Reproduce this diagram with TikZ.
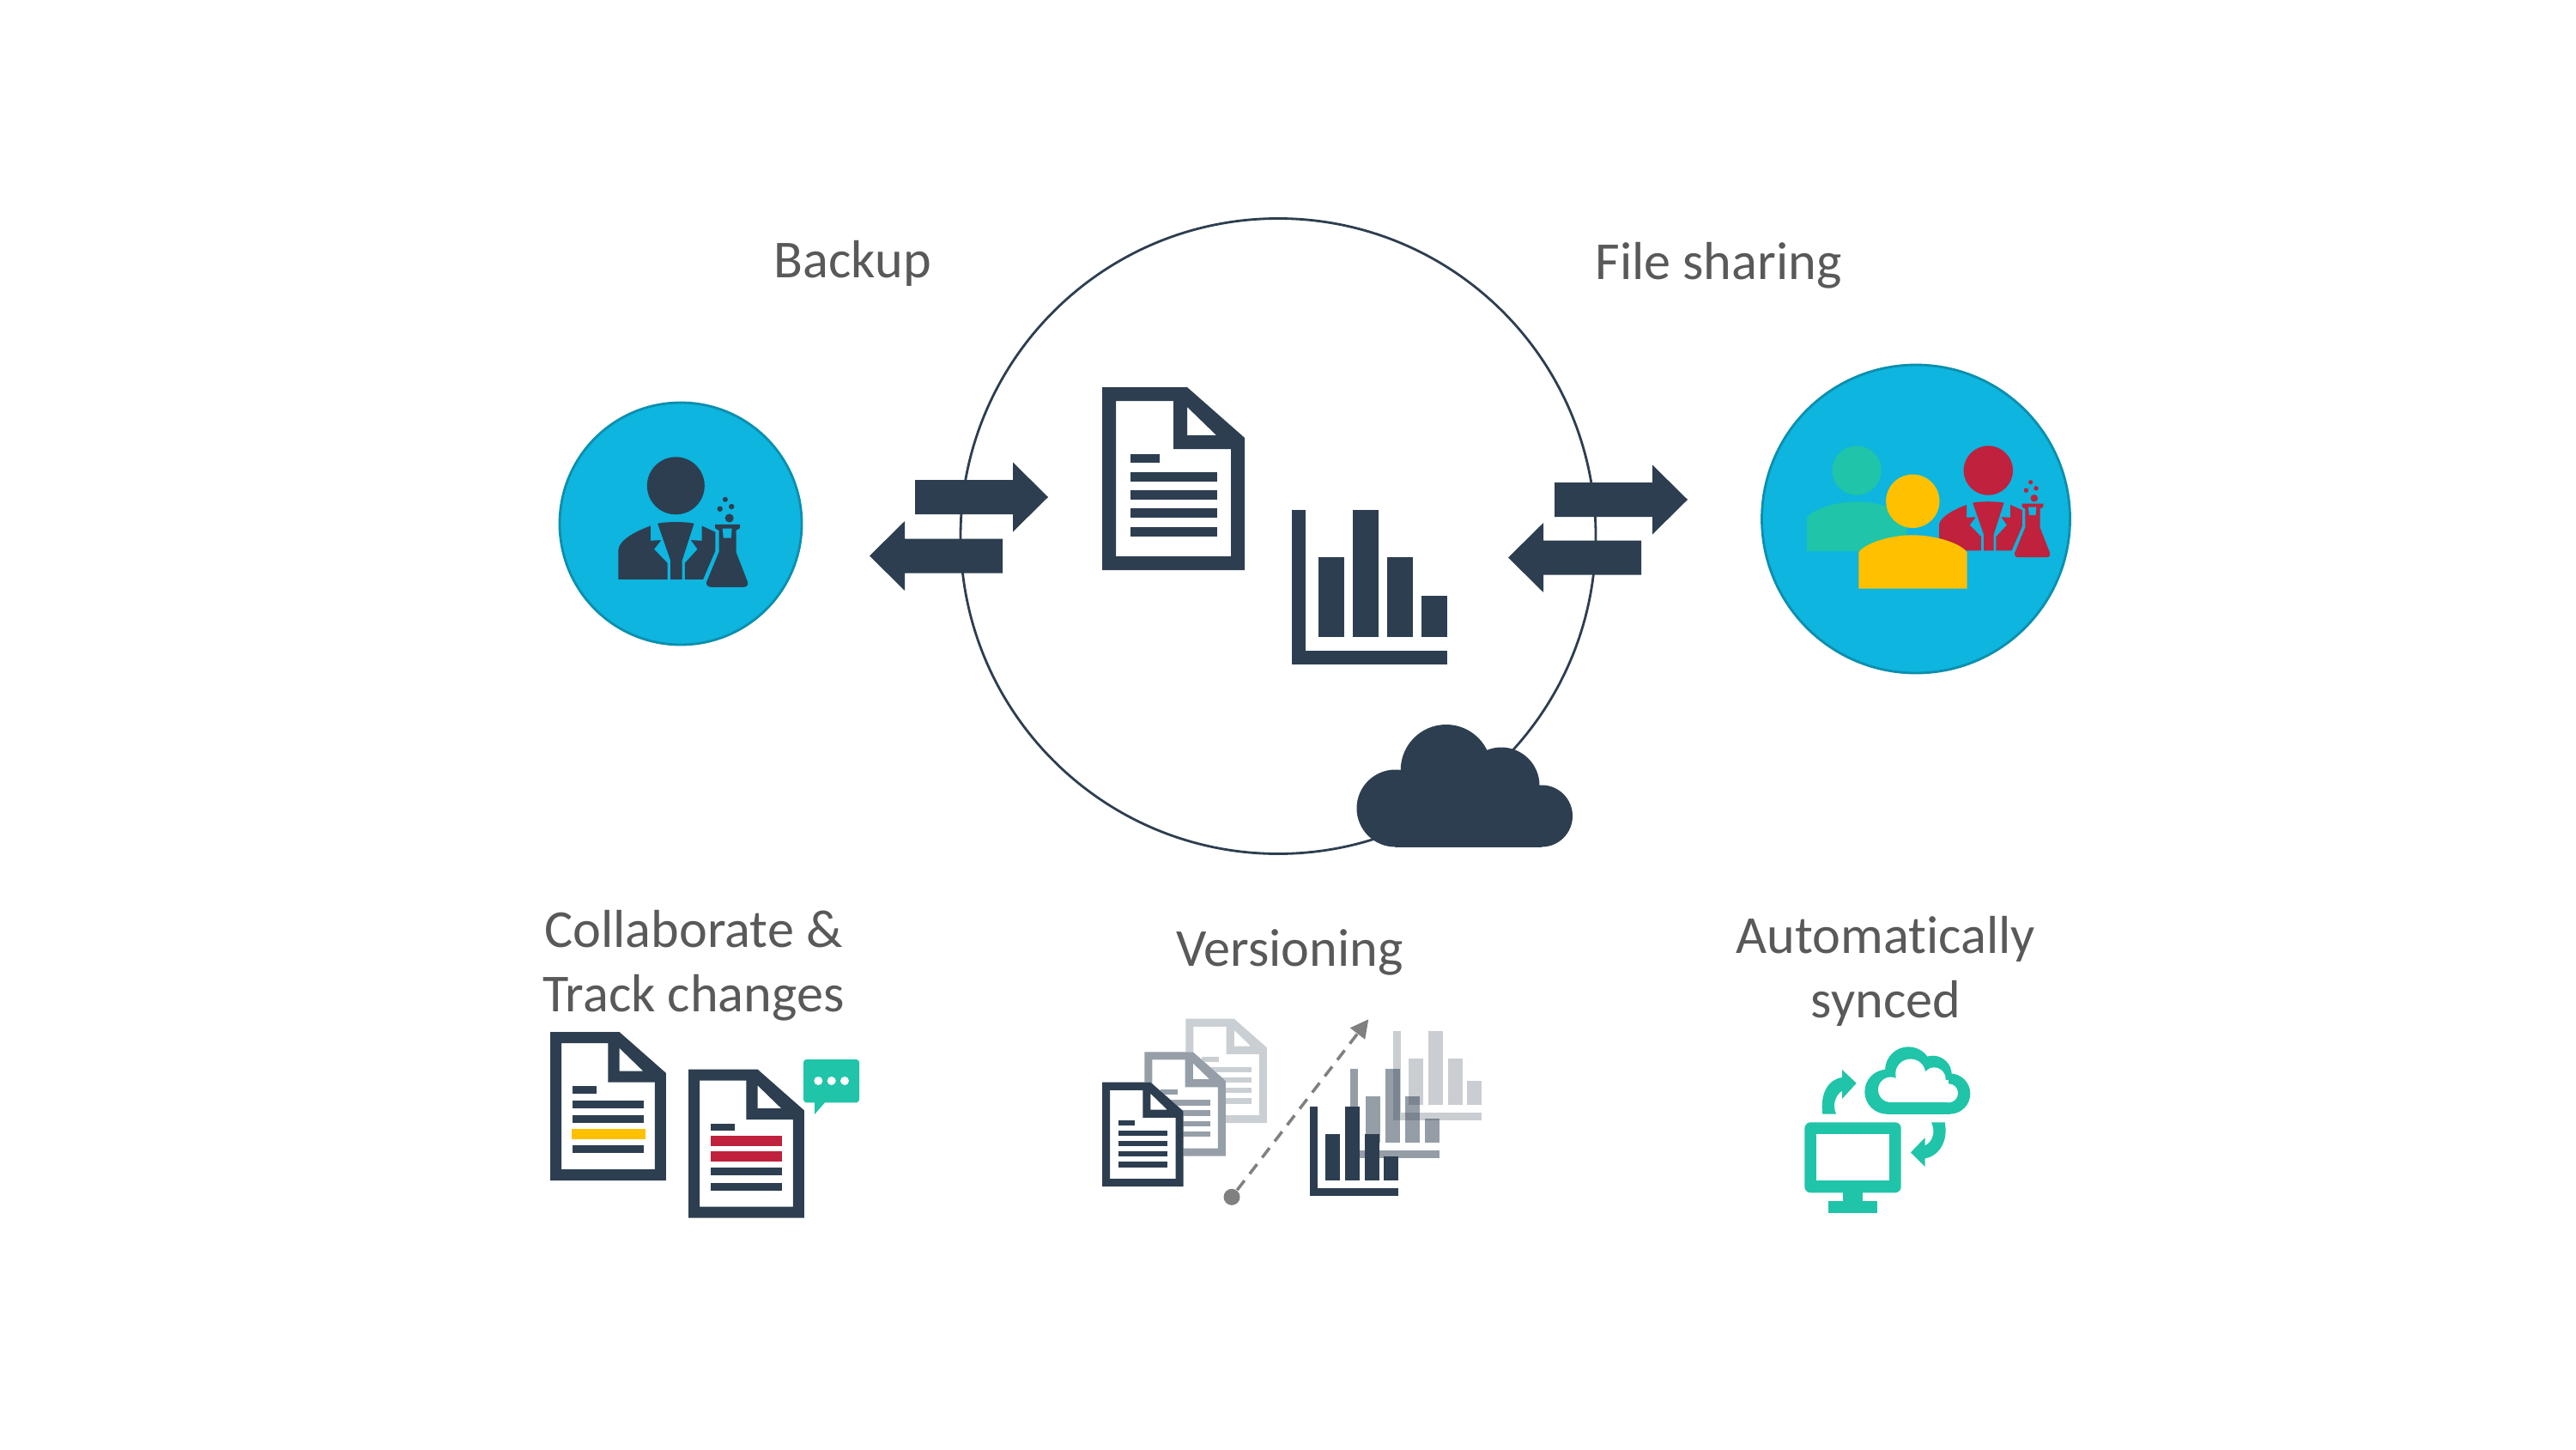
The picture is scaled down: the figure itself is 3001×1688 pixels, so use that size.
\documentclass[tikz,border=0pt]{standalone}
\usepackage{fontspec}
\setmainfont{Carlito}[Ligatures=NoCommon]
\usepackage{xcolor}
\usepackage{tikz}
\usetikzlibrary{
arrows.meta,
positioning
}
\definecolor{syncnavy}{HTML}{2D3E50}
\definecolor{syncsky}{HTML}{0DB5DF}
\definecolor{syncrim}{HTML}{0C8FAE}
\definecolor{syncteal}{HTML}{20C4A8}
\definecolor{syncred}{HTML}{C0213C}
\definecolor{syncgold}{HTML}{FFC000}
\definecolor{syncgray}{HTML}{595959}
\definecolor{syncdash}{HTML}{808080}
\tikzset{
  caption/.style={text=syncgray, font=\fontsize{17.7}{21.3}\selectfont, align=center, inner sep=0pt},
  disc/.style={fill=syncsky, draw=syncrim, line width=0.8pt},
  ghostmid/.style={fill=syncnavy, fill opacity=0.5},
  ghostback/.style={fill=syncnavy, fill opacity=0.25},
  pics/blockarrow/.style={code={
    \fill[syncnavy] (0,-20) -- (114,-20) -- (114,-40.5) -- (155,0) -- (114,40.5) -- (114,20) -- (0,20) -- cycle;
  }},
  pics/docicon/.style={code={
    \fill[white] (0,0) -- (99,0) -- (166,59) -- (166,213) -- (0,213) -- cycle;
    \fill[#1, even odd rule] (0,0) -- (99,0) -- (166,59) -- (166,213) -- (0,213) -- cycle
      (16,16) -- (83,16) -- (83,72) -- (150,72) -- (150,197) -- (16,197) -- cycle
      (99,23) -- (99,56) -- (133,56) -- cycle;
    \fill[#1] (32.5,77.5) rectangle (67,88);
    \foreach \ly in {98.5,119.6,141,162.5}
      \fill[#1] (32.5,\ly) rectangle (134,\ly+11);
  }},
  pics/barchart/.style={code={
    \fill[#1] (0,0) rectangle (16,164.8);
    \fill[#1] (0,164.8) rectangle (181,180.4);
    \fill[#1] (31.7,55.4) rectangle (61.1,148.7);
    \fill[#1] (71.6,0) rectangle (101,148.7);
    \fill[#1] (111.6,55.4) rectangle (141,148.7);
    \fill[#1] (151.1,100.8) rectangle (181,148.7);
  }},
  pics/scientist/.style 2 args={code={
    \fill[#1] (0,0) circle (33.5);
    \fill[#1] (-66.9,109) -- (-66.9,74) .. controls (-65.3,62.3) and (-44.9,52.3) .. (-29.4,46.7)
      -- (-29.4,64) -- (-17.1,63.3) -- (-25.3,74) -- (-9.8,90) -- (-9.8,109) -- cycle;
    \fill[#1] (-21.2,44) .. controls (-12,41.7) and (12,41.7) .. (21.2,44)
      -- (7.3,87.3) -- (7.3,109) -- (-6.1,109) -- (-6.1,87.3) -- cycle;
    \fill[#1] (30.2,46.7) -- (30.2,64) -- (17.6,63.3) -- (25.3,74) -- (10.6,90) -- (10.6,109)
      -- (31.8,109) -- (46.1,75.7) -- (46.1,54) -- cycle;
    % Flask
    \fill[#1] (45.7,45) -- (74.7,45) -- (74.7,49.3) -- (70.2,52) -- (70.2,77.3) -- (83.7,112)
      .. controls (84.5,115.5) and (83,118) .. (79,118) -- (41,118)
      .. controls (37,118) and (35.2,115.5) .. (35.9,112) -- (50.2,77.3) -- (50.2,52) -- (45.7,49.3) -- cycle;
    \fill[#2] (54.3,49.7) -- (65.3,49.7) -- (64.5,60.7) -- (55.5,60.7) -- cycle;
    \fill[#1] (62.4,37.7) circle (5);
    \fill[#1] (57.6,16) circle (3);
    \fill[#1] (51.4,27) circle (3.2);
    \fill[#1] (64.9,24.3) circle (3.2);
  }},
  pics/member/.style={code={
    \fill[#1] (0,0) circle (31.2);
    \fill[#1] (-63,101.9) -- (-63,60) .. controls (-58,50) and (-28,39.5) .. (0,39.5)
      .. controls (28,39.5) and (58,50) .. (63.4,60) -- (63.4,101.9) -- cycle;
  }}
}
\begin{document}
\begin{tikzpicture}[x=0.01cm, y=-0.01cm]
  \fill[white] (0,0) rectangle (3001,1688);
  % Central ring and its contents
  \draw[syncnavy, line width=0.8pt] (1489,624.5) circle (370);
  \pic at (1284,451) {docicon=syncnavy};
  \pic at (1504.7,593.6) {barchart=syncnavy};
  % Storage cloud
  \fill[syncnavy] (1625.5,941.5) circle (45);
  \fill[syncnavy] (1684.7,897) circle (53);
  \fill[syncnavy] (1749,915) circle (44.5);
  \fill[syncnavy] (1796,950.5) circle (36);
  \fill[syncnavy] (1625,900) rectangle (1749,986.5);
  \fill[syncnavy] (1749,945) rectangle (1796,986.5);
  % Exchange arrows
  \pic at (1066,579) {blockarrow};
  \pic[rotate=180] at (1168,647.5) {blockarrow};
  \pic at (1811,582) {blockarrow};
  \pic[rotate=180] at (1912,649.5) {blockarrow};
  % Single user
  \draw[disc] (793,610) circle (141);
  \pic at (787.3,565.8) {scientist={syncnavy}{syncsky}};
  % Group of users
  \draw[disc] (2232,604.5) circle (179.5);
  \pic[scale=0.92] at (2163,548) {member=syncteal};
  \pic[scale=0.857] at (2316.3,548) {scientist={syncred}{syncsky}};
  \pic at (2228.3,583.8) {member=syncgold};
  % Collaborate
  \pic[scale=0.813] at (641,1202) {docicon=syncnavy};
  \fill[syncgold] (666,1315) rectangle (751.5,1327);
  \pic[scale=0.813] at (802,1245.5) {docicon=syncnavy};
  \fill[syncred] (828,1323.3) rectangle (911,1335.3);
  \fill[syncred] (828,1341.3) rectangle (911,1353.3);
  \fill[syncteal, rounded corners=1pt] (936,1234) rectangle (1001,1284.3);
  \fill[syncteal] (949,1283) -- (949,1298) -- (962,1283) -- cycle;
  \foreach \dx in {953.3,968.7,984}
    \fill[white] (\dx,1259) circle (5);
  % Versions of the document
  \pic[scale=0.57] at (1381.3,1186.7) {docicon={syncnavy!25}};
  \pic[scale=0.57] at (1333.3,1225.3) {docicon={syncnavy!50}};
  \pic[scale=0.57] at (1284,1260.7) {docicon=syncnavy};
  % Versions of the chart
  \pic[scale=0.573] at (1622.7,1201.3) {barchart=ghostback};
  \pic[scale=0.573] at (1573.3,1245.3) {barchart=ghostmid};
  \pic[scale=0.573] at (1525.7,1289.3) {barchart=syncnavy};
  % Version timeline
  \node (firstver) [circle, fill=syncdash, minimum size=5.4pt, inner sep=0pt] at (1435,1394.3) {};
  \coordinate (lastver) at (1594.3,1187.3);
  \draw[syncdash, line width=1pt, dash pattern=on 4pt off 2.8pt, -{Triangle[length=6pt, width=6pt]}] (firstver) -- (lastver);
  % Monitor and cloud in sync
  \fill[syncteal, rounded corners=2pt] (2102.3,1307.3) rectangle (2214.7,1389.3);
  \fill[white] (2116.3,1321.3) rectangle (2200.7,1375.3);
  \fill[syncteal] (2147.3,1389) rectangle (2170,1399);
  \fill[syncteal] (2130.3,1398.7) rectangle (2186.7,1412.7);
  \fill[syncteal] (2198.3,1271.7) circle (26);
  \fill[syncteal] (2223.3,1246.5) circle (27.2);
  \fill[syncteal] (2251.7,1251.7) circle (22);
  \fill[syncteal] (2271.7,1274) circle (23.6);
  \fill[syncteal] (2198.3,1255) rectangle (2271.7,1297.6);
  \fill[white] (2202.7,1269.3) circle (14.7);
  \fill[white] (2225.7,1251) circle (17.5);
  \fill[white] (2253.3,1256.7) circle (13.3);
  \fill[white] (2270,1273.3) circle (11);
  \fill[white] (2203,1258) rectangle (2270,1284.3);
  \fill[syncteal] (2123.3,1297.7) .. controls (2120,1273.3) and (2130,1257.3) .. (2146,1255)
    -- (2146,1246) -- (2162.7,1261.7) -- (2146,1280) -- (2146,1270.7)
    .. controls (2138.3,1275) and (2134.3,1287.3) .. (2139,1297.7) -- cycle;
  \fill[syncteal] (2265.7,1307.3) .. controls (2270,1330) and (2258.3,1346.7) .. (2242.7,1349.3)
    -- (2242.7,1359) -- (2226,1342.3) -- (2242.7,1325) -- (2242.7,1334.3)
    .. controls (2251.7,1330) and (2255,1318.3) .. (2250,1307.3) -- cycle;
  % Captions
  \node[caption] (backuplbl) at (993.4,307) {Backup};
  \node[caption] (sharinglbl) at (2002,309) {File sharing};
  \node[caption] (collablbl) at (808,1125) {Collaborate \&\\Track changes};
  \node[caption] (versionlbl) at (1502.5,1109) {Versioning};
  \node[caption] (syncedlbl) at (2197,1131) {Automatically\\synced};
\end{tikzpicture}
\end{document}
